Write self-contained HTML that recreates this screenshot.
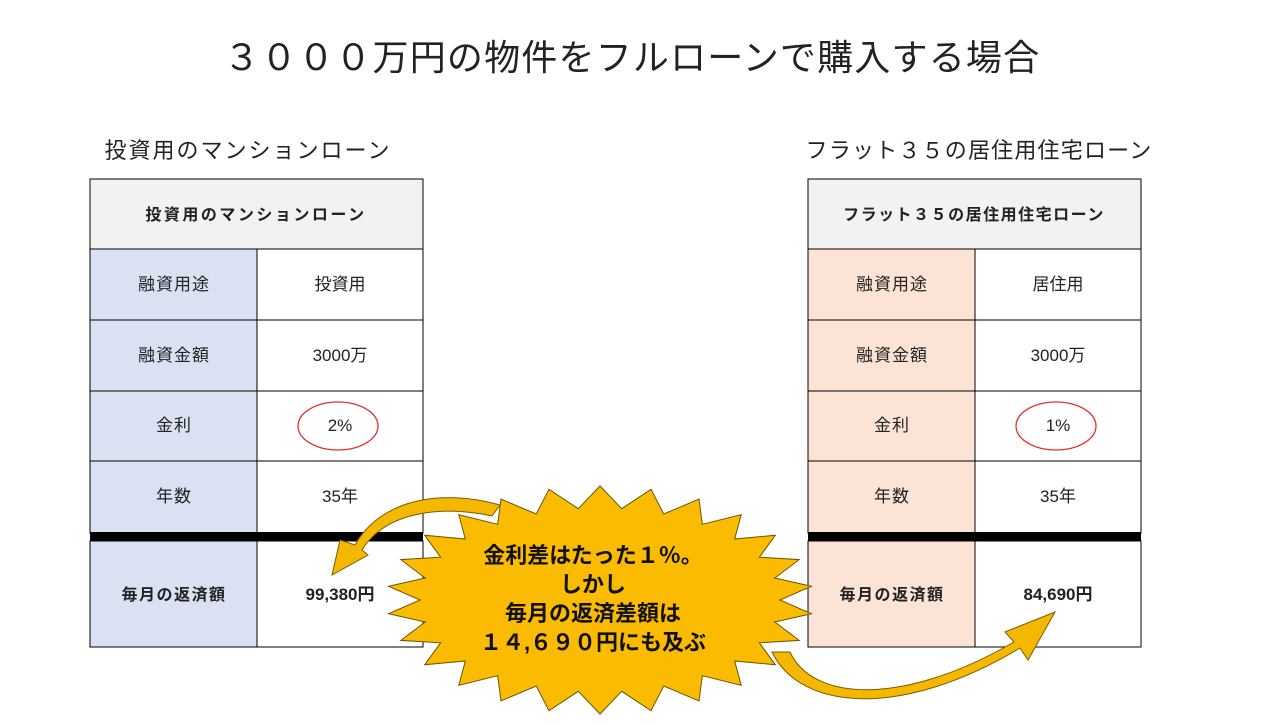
<!DOCTYPE html>
<html><head><meta charset="utf-8"><style>
body{margin:0;background:#fff;}
svg text{font-family:"Liberation Sans","Noto Sans CJK JP",sans-serif;}
</style></head><body>
<svg width="1280" height="720" xmlns="http://www.w3.org/2000/svg">
<rect width="1280" height="720" fill="#fff"/>
<text x="632" y="70" font-size="36" text-anchor="middle" fill="#222" letter-spacing="1.2">３０００万円の物件をフルローンで購入する場合</text>
<text x="248" y="158" font-size="22" text-anchor="middle" fill="#222" letter-spacing="2">投資用のマンションローン</text>
<text x="979" y="158" font-size="22" text-anchor="middle" fill="#222" letter-spacing="1.2">フラット３５の居住用住宅ローン</text>

<g stroke="#000" stroke-width="1">
<rect x="90" y="179" width="333" height="70" fill="#f2f2f2"/>
<rect x="90" y="249" width="167" height="284" fill="#dae1f2"/>
<rect x="257" y="249" width="166" height="284" fill="#fff"/>
<line x1="90" y1="320" x2="423" y2="320"/><line x1="90" y1="391" x2="423" y2="391"/><line x1="90" y1="461" x2="423" y2="461"/>
<rect x="90" y="541" width="167" height="106" fill="#dae1f2"/>
<rect x="257" y="541" width="166" height="106" fill="#fff"/>
<rect x="808" y="179" width="333" height="70" fill="#f2f2f2"/>
<rect x="808" y="249" width="167" height="284" fill="#fbe4d6"/>
<rect x="975" y="249" width="166" height="284" fill="#fff"/>
<line x1="808" y1="320" x2="1141" y2="320"/><line x1="808" y1="391" x2="1141" y2="391"/><line x1="808" y1="461" x2="1141" y2="461"/>
<rect x="808" y="541" width="167" height="106" fill="#fbe4d6"/>
<rect x="975" y="541" width="166" height="106" fill="#fff"/>
</g>
<rect x="90" y="532" width="333" height="9" fill="#000"/>
<rect x="808" y="532" width="333" height="9" fill="#000"/>

<g font-size="17" text-anchor="middle" fill="#222">
<text x="256" y="220" font-weight="bold" font-size="16" letter-spacing="2.5">投資用のマンションローン</text>
<text x="174" y="290" letter-spacing="1">融資用途</text><text x="340" y="290">投資用</text>
<text x="174" y="361" letter-spacing="1">融資金額</text><text x="340" y="361">3000万</text>
<text x="174" y="431" letter-spacing="1">金利</text><text x="340" y="431">2%</text>
<text x="174" y="502" letter-spacing="1">年数</text><text x="340" y="502">35年</text>
<text x="174" y="600" font-weight="bold" font-size="16" letter-spacing="1.5">毎月の返済額</text><text x="340" y="600" font-weight="bold">99,380円</text>
<text x="974" y="220" font-weight="bold" font-size="16" letter-spacing="1.5">フラット３５の居住用住宅ローン</text>
<text x="892" y="290" letter-spacing="1">融資用途</text><text x="1058" y="290">居住用</text>
<text x="892" y="361" letter-spacing="1">融資金額</text><text x="1058" y="361">3000万</text>
<text x="892" y="431" letter-spacing="1">金利</text><text x="1058" y="431">1%</text>
<text x="892" y="502" letter-spacing="1">年数</text><text x="1058" y="502">35年</text>
<text x="892" y="600" font-weight="bold" font-size="16" letter-spacing="1.5">毎月の返済額</text><text x="1058" y="600" font-weight="bold">84,690円</text>
</g>
<ellipse cx="338" cy="426" rx="40" ry="24" fill="none" stroke="#e03030" stroke-width="1.3"/>
<ellipse cx="1056" cy="426" rx="40" ry="24" fill="none" stroke="#e03030" stroke-width="1.3"/>

<g fill="#f5b800" stroke="#7a5c00" stroke-width="1">
<path d="M500,505 C440,488 380,500 355,545 L340,540 L332,575 L368,555 L362,550 C385,512 440,505 492,516 Z"/>
<path d="M772,652 C800,710 900,720 1020,648 L1028,660 L1055,612 L1005,632 L1014,642 C900,708 812,700 790,652 Z"/>
</g>
<polygon id="burst" fill="#fbbb00" stroke="#6b5500" stroke-width="1" points=""/>
<script>
(function(){var p=[],n=26,cx=600,cy=600;for(var i=0;i<2*n;i++){var a=Math.PI*i/n-Math.PI/2;var o=i%2==0;var rx=o?213:180,ry=o?114:92;p.push((cx+rx*Math.cos(a)).toFixed(1)+","+(cy+ry*Math.sin(a)).toFixed(1));}document.getElementById("burst").setAttribute("points",p.join(" "));})();
</script>
<g font-size="22" font-weight="bold" text-anchor="middle" fill="#111">
<text x="593" y="563">金利差はたった１％。</text>
<text x="593" y="592">しかし</text>
<text x="593" y="621">毎月の返済差額は</text>
<text x="593" y="650">１４,６９０円にも及ぶ</text>
</g>
</svg>
</body></html>
